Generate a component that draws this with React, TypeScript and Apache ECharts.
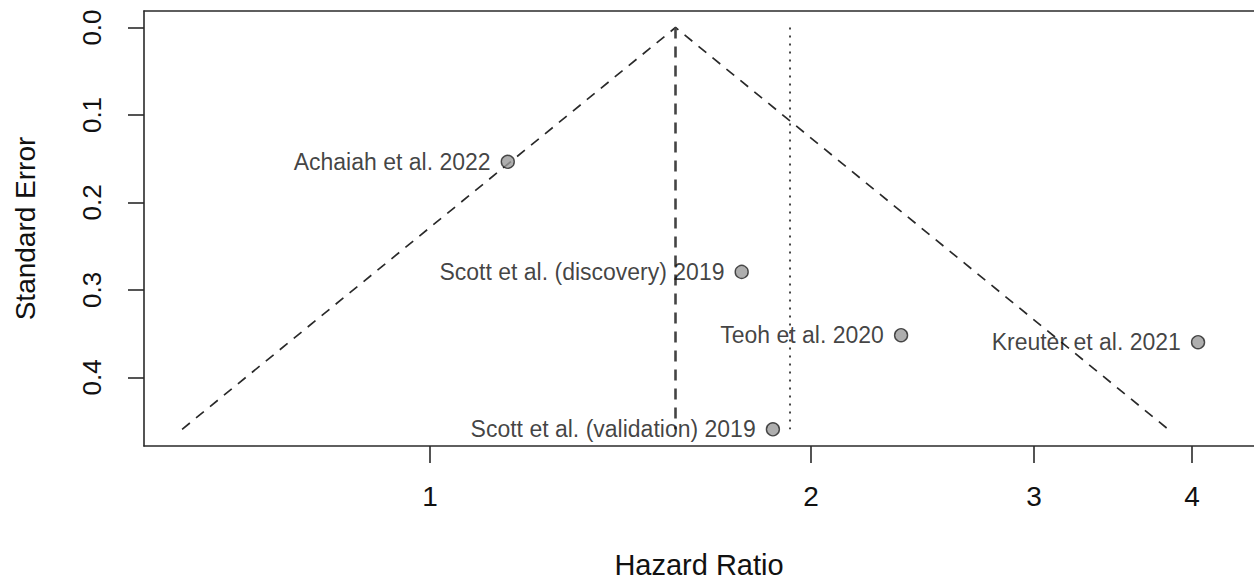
import React, { useEffect, useRef } from "react";
import * as echarts from "echarts";

const studyNames = [
  "Achaiah et al. 2022",
  "Scott et al. (discovery) 2019",
  "Teoh et al. 2020",
  "Kreuter et al. 2021",
  "Scott et al. (validation) 2019",
];
const hazardRatios = [1.152, 1.763, 2.356, 4.044, 1.866];
const standardErrors = [0.1535, 0.2794, 0.3518, 0.3598, 0.4594];

const pooledHR = 1.563;
const referenceHR = 1.925;
const funnelHR = [0.637, 1.563, 3.83];
const funnelSE = [0.4594, 0, 0.4594];
const verticalSE = [0, 0.4594];

const xTickValues = [1, 2, 3, 4];
const yTickValues = [0, 0.1, 0.2, 0.3, 0.4];

const FONT = "'Liberation Sans', Arial, Helvetica, sans-serif";
const X_MIN = -0.5203;
const X_MAX = 1.499;

export default function App() {
  const ref = useRef<HTMLDivElement>(null);
  useEffect(() => {
    if (!ref.current) return;
    const chart = echarts.init(ref.current, null, { renderer: "svg" });
    const lx = xTickValues.map((v) => Math.log(v));
    const axisLineStyle = { color: "#2a2a2a", width: 1.6 };
    chart.setOption({
      animation: false,
      backgroundColor: "#ffffff",
      textStyle: { fontFamily: FONT },
      grid: {
        left: 144,
        top: 11,
        right: 0,
        height: 435,
        show: false,
      },
      xAxis: [
        {
          type: "value",
          min: X_MIN,
          max: X_MAX,
          position: "bottom",
          name: "Hazard Ratio",
          nameLocation: "middle",
          nameGap: 104,
          nameTextStyle: { fontSize: 29, color: "#111", fontFamily: FONT },
          axisLine: { show: true, onZero: false, lineStyle: axisLineStyle },
          axisTick: {
            show: true,
            length: 17,
            customValues: lx,
            lineStyle: axisLineStyle,
          },
          axisLabel: {
            customValues: lx,
            formatter: (v: number) => String(Math.round(Math.exp(v))),
            fontSize: 28,
            color: "#111",
            margin: 36,
            fontFamily: FONT,
          },
          splitLine: { show: false },
        },
        {
          type: "value",
          min: X_MIN,
          max: X_MAX,
          position: "top",
          axisLine: { show: true, onZero: false, lineStyle: axisLineStyle },
          axisTick: { show: false },
          axisLabel: { show: false },
          splitLine: { show: false },
        },
      ],
      yAxis: {
        type: "value",
        inverse: true,
        min: -0.0189,
        max: 0.4785,
        name: "Standard Error",
        nameLocation: "middle",
        nameGap: 105,
        nameTextStyle: { fontSize: 28, color: "#111", fontFamily: FONT },
        axisLine: { show: true, onZero: false, lineStyle: axisLineStyle },
        axisTick: {
          show: true,
          length: 16,
          customValues: yTickValues,
          lineStyle: axisLineStyle,
        },
        axisLabel: {
          customValues: yTickValues,
          formatter: (v: number) => v.toFixed(1),
          rotate: 90,
          fontSize: 26,
          color: "#111",
          margin: 39,
          fontFamily: FONT,
        },
        splitLine: { show: false },
      },
      series: [
        {
          type: "line",
          data: funnelHR.map((h, i) => [Math.log(h), funnelSE[i]]),
          symbol: "none",
          lineStyle: { color: "#2a2a2a", width: 1.7, type: [10, 8] },
          silent: true,
          z: 2,
        },
        {
          type: "line",
          data: verticalSE.map((s) => [Math.log(pooledHR), s]),
          symbol: "none",
          lineStyle: { color: "#444", width: 2.6, type: [11, 8] },
          silent: true,
          z: 2,
        },
        {
          type: "line",
          data: verticalSE.map((s) => [Math.log(referenceHR), s]),
          symbol: "none",
          lineStyle: { color: "#333", width: 1.8, type: [2, 6] },
          silent: true,
          z: 2,
        },
        {
          type: "scatter",
          data: studyNames.map((n, i) => ({
            name: n,
            value: [Math.log(hazardRatios[i]), standardErrors[i]],
          })),
          symbol: "circle",
          symbolSize: 13,
          itemStyle: { color: "#9a9a9a", borderColor: "#222", borderWidth: 1.4 },
          label: {
            show: true,
            position: "left",
            distance: 10,
            formatter: "{b}",
            fontSize: 23,
            color: "#111",
            fontFamily: FONT,
          },
          z: 5,
        },
      ],
    });
    return () => chart.dispose();
  }, []);
  return (
    <div
      ref={ref}
      style={{ position: "fixed", left: 0, top: 0, width: 1254, height: 586 }}
    />
  );
}
